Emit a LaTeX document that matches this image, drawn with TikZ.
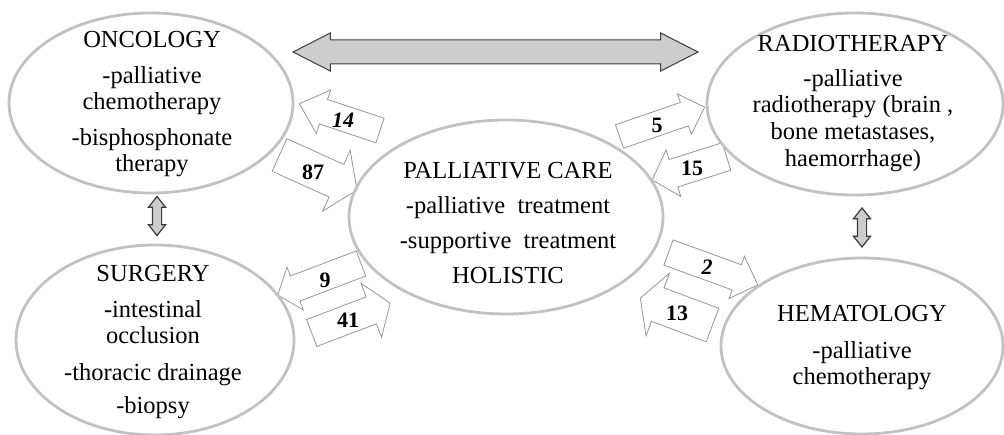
\documentclass[tikz,border=0pt]{standalone}
\usepackage{fontspec}
\setmainfont{Liberation Serif}
\usetikzlibrary{shapes.geometric,shapes.arrows}
\definecolor{ellgray}{RGB}{194,194,194}
\definecolor{arrgray}{RGB}{150,150,150}
\definecolor{bigfill}{RGB}{205,205,205}
\definecolor{bigline}{RGB}{60,60,60}
\tikzset{
  ell/.style={ellipse, draw=ellgray, line width=2.8pt, inner sep=0pt},
  lbl/.style={font=\fontsize{24.5}{26}\selectfont, align=center, inner sep=0pt},
  barrow/.style={single arrow, draw=arrgray, fill=white, line width=0.8pt,
    inner xsep=0pt, outer sep=0pt, anchor=tail},
  num/.style={font=\fontsize{22}{22}\selectfont\bfseries, inner sep=0pt},
  numit/.style={font=\fontsize{22}{22}\selectfont\bfseries\itshape, inner sep=0pt},
  vdouble/.style={double arrow, draw=bigline, fill=bigfill, line width=1.2pt,
    rotate=90, minimum height=39pt, inner xsep=0pt, inner ysep=4pt,
    double arrow head extend=4pt, double arrow tip angle=77},
}
\begin{document}
\begin{tikzpicture}[x=1pt,y=-1pt]
\useasboundingbox (0,0) rectangle (1004,435);
% block arrows (below the ellipses)
\node[barrow, rotate=161.6, minimum height=85pt, inner ysep=12.5pt,
  single arrow head extend=10pt, single arrow tip angle=84] (a14) at (380,130.5) {};
\node[barrow, rotate=-24.3, minimum height=85pt, inner ysep=17.5pt,
  single arrow head extend=15.5pt, single arrow tip angle=112] (a87) at (279.5,155) {};
\node[barrow, rotate=19, minimum height=90pt, inner ysep=12pt,
  single arrow head extend=9pt, single arrow tip angle=90] (a5) at (619.5,136.5) {};
\node[barrow, rotate=197.5, minimum height=78pt, inner ysep=14pt,
  single arrow head extend=10pt, single arrow tip angle=95] (a15) at (726.5,156.5) {};
\node[barrow, rotate=200.8, minimum height=89pt, inner ysep=13pt,
  single arrow head extend=9.5pt, single arrow tip angle=102] (a9) at (361,263.5) {};
\node[barrow, rotate=20.8, minimum height=84pt, inner ysep=14pt,
  single arrow head extend=14.5pt, single arrow tip angle=110] (a41) at (311.7,333) {};
\node[barrow, rotate=-20, minimum height=95pt, inner ysep=13pt,
  single arrow head extend=9pt, single arrow tip angle=90] (a2) at (668.5,252.5) {};
\node[barrow, rotate=159.6, minimum height=77pt, inner ysep=17.5pt,
  single arrow head extend=15.5pt, single arrow tip angle=122] (a13) at (712.5,325) {};
% ellipses
\node[ell, minimum width=284pt, minimum height=180pt] (onc) at (151,103) {};
\node[ell, minimum width=278pt, minimum height=190pt] (sur) at (155,340) {};
\node[ell, minimum width=296pt, minimum height=182pt] (rad) at (855,104) {};
\node[ell, minimum width=282pt, minimum height=176pt] (hem) at (862,346) {};
\node[ell, minimum width=314pt, minimum height=194pt] (pc) at (506,217) {};
% texts
\node[lbl] (onct) at (152,104) {ONCOLOGY\\[10pt]-palliative\\chemotherapy\\[10pt]-bisphosphonate\\therapy};
\node[lbl] (surt) at (153,342) {SURGERY\\[10pt]-intestinal\\occlusion\\[11pt]-thoracic drainage\\[7pt]-biopsy};
\node[lbl] (radt) at (853,104) {RADIOTHERAPY\\[9pt]-palliative\\radiotherapy (brain ,\\[1pt]bone metastases,\\[1pt]haemorrhage)};
\node[lbl] (hemt) at (862,348) {HEMATOLOGY\\[11pt]-palliative\\chemotherapy};
\node[lbl] (pct) at (508,223) {PALLIATIVE CARE\\[9pt]-palliative\hspace{0.5em}treatment\\[9pt]-supportive\hspace{0.5em}treatment\\[9pt]HOLISTIC};
% big double arrow
\node[double arrow, draw=bigline, fill=bigfill, line width=1pt, minimum height=405pt,
  inner xsep=0pt, inner ysep=11.5pt, double arrow head extend=7pt,
  double arrow tip angle=54] (top) at (495.5,52) {};
% small vertical double arrows
\node[vdouble] (lv) at (157,216) {};
\node[vdouble] (rv) at (862,227.5) {};
% numbers
\node[numit] (n14) at (343,120) {14};
\node[num] (n87) at (313,172) {87};
\node[num] (n5) at (657,125) {5};
\node[num] (n15) at (692,168) {15};
\node[num] (n9) at (325,280) {9};
\node[num] (n41) at (348,320) {41};
\node[numit] (n2) at (707,267) {2};
\node[num] (n13) at (677,313) {13};
\end{tikzpicture}
\end{document}
